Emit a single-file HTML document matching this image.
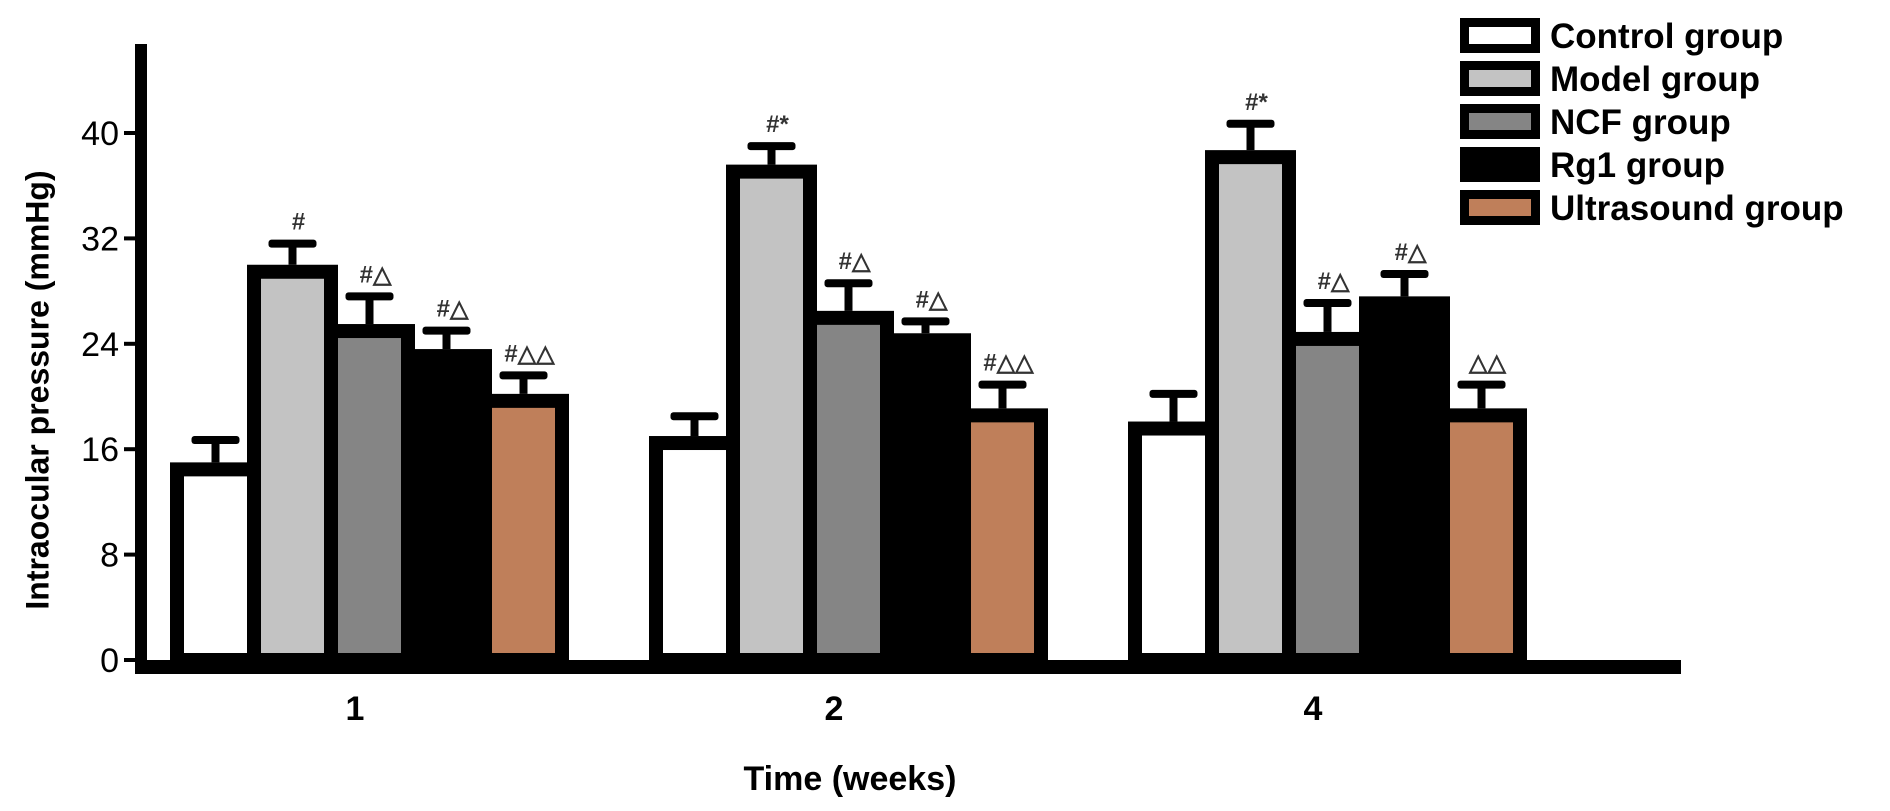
<!DOCTYPE html>
<html><head><meta charset="utf-8"><style>
html,body{margin:0;padding:0;background:#fff;}
svg{display:block;font-family:"Liberation Sans",Arial,sans-serif;}
</style></head><body>
<svg id="chart" width="1890" height="811" viewBox="0 0 1890 811" xmlns="http://www.w3.org/2000/svg">
<g id="bars"></g>
<g id="axes"></g>
<text transform="translate(40,390) rotate(-90)" text-anchor="middle" font-size="32" font-weight="bold" dominant-baseline="middle">Intraocular pressure (mmHg)</text>
<text x="850" y="790" text-anchor="middle" font-size="34" font-weight="bold">Time (weeks)</text>
<g id="legend"></g>
</svg>
<script>
const categories = ["1","2","4"];
const groups = ["Control group","Model group","NCF group","Rg1 group","Ultrasound group"];
const controlVals = [15.0,17.0,18.1];
const modelVals = [30.0,37.6,38.7];
const ncfVals = [25.5,26.5,24.9];
const rg1Vals = [23.6,24.8,27.6];
const usVals = [20.2,19.1,19.1];
const controlErr = [1.7,1.5,2.1];
const modelErr = [1.6,1.4,2.0];
const ncfErr = [2.1,2.1,2.2];
const rg1Err = [1.4,0.9,1.7];
const usErr = [1.4,1.8,1.8];
const marks = [["","#","#△","#△","#△△"],["","#*","#△","#△","#△△"],["","#*","#△","#△","△△"]];
const yTicks = [0,8,16,24,32,40];
const fills = ["#ffffff","#c3c3c3","#858585","#000000","#bf7f5a"];

const NS="http://www.w3.org/2000/svg";
const y0=660, pxPer=13.175;
function yScale(v){return y0 - v*pxPer;}
function groupX(i){return 170 + i*479;}
function mk(tag,attrs,parent){const e=document.createElementNS(NS,tag);for(const k in attrs)e.setAttribute(k,attrs[k]);parent.appendChild(e);return e;}
const bars=document.getElementById('bars');
const axes=document.getElementById('axes');
const series=[controlVals,modelVals,ncfVals,rg1Vals,usVals];
const errs=[controlErr,modelErr,ncfErr,rg1Err,usErr];
const pitch=77, bw=14;
categories.forEach((c,gi)=>{
  for(let s=0;s<5;s++){
    const v=series[s][gi], e=errs[s][gi];
    const L=groupX(gi)+s*pitch;
    const top=yScale(v);
    const cx=L+45.5;
    const capY=yScale(v+e);
    const stem=mk('rect',{x:cx-4,y:capY,width:8,height:top-capY,fill:'#000'},bars);
    
    
    const cap=mk('rect',{x:cx-24,y:capY-4,width:48,height:8,rx:3,fill:'#000'},bars);
    
    
    const r=mk('rect',{x:L+bw/2,y:top+bw/2,width:91-bw,height:y0-top-bw/2,fill:fills[s],stroke:'#000','stroke-width':bw},bars);
    
    
    if(marks[gi][s]){
      const t=mk('text',{x:cx+6,y:capY-14,'text-anchor':'middle','font-size':24,'font-weight':'bold',fill:'#333'},bars);
      t.textContent=marks[gi][s];
      
      
    }
  }
  const xl=mk('text',{x:groupX(gi)+185,y:720,'text-anchor':'middle','font-size':34,'font-weight':'bold'},axes);
  xl.textContent=c;
  
  
});
const ya=mk('rect',{x:135,y:44,width:12,height:630,fill:'#000'},axes);


const xa=mk('rect',{x:135,y:660,width:1546,height:14,fill:'#000'},axes);


yTicks.forEach(t=>{
  const y=yScale(t);
  const tk=mk('rect',{x:124,y:y-2,width:12,height:4,fill:'#000'},axes);
  
  
  const tl=mk('text',{x:119,y:y+12,'text-anchor':'end','font-size':34},axes);
  tl.textContent=t;
  
  
});
const lg=document.getElementById('legend');
groups.forEach((g,i)=>{
  const y=18+i*43;
  const sw=mk('rect',{x:1464.5,y:y+4.5,width:71,height:26,fill:fills[i],stroke:'#000','stroke-width':9},lg);
  
  
  const t=mk('text',{x:1550,y:y+30,'font-size':35,'font-weight':'bold'},lg);
  t.textContent=g;
  
  
});
</script>
</body></html>
